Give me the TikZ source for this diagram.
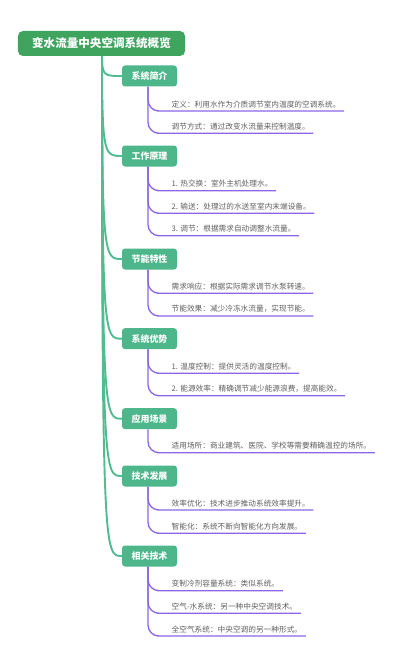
\documentclass[tikz,border=0pt]{standalone}
\usepackage{fontspec}
\setmainfont{Noto Sans CJK SC}
\usetikzlibrary{calc}
\definecolor{rootgreen}{HTML}{3FA45E}
\definecolor{catgreen}{HTML}{4DB78B}
\definecolor{trunkgreen}{HTML}{52BC91}
\definecolor{leafpurple}{HTML}{8B66E6}
\definecolor{leaftext}{HTML}{606060}
\tikzset{
  rootbox/.style={fill=rootgreen, rounded corners=5bp, text=white, font=\fontsize{11.6}{13}\selectfont\bfseries, minimum width=167bp, minimum height=25bp, inner sep=0pt},
  catbox/.style={fill=catgreen, rounded corners=3bp, text=white, font=\fontsize{9}{11}\selectfont\bfseries, minimum width=55bp, minimum height=21bp, inner sep=0pt},
  leafnode/.style={anchor=south west, text=leaftext, font=\fontsize{7.7}{9}\selectfont, inner xsep=3.5bp, inner ysep=3bp},
  branch/.style={draw=trunkgreen, line width=1.9bp},
  leafline/.style={draw=leafpurple, line width=1.3bp, rounded corners=11bp},
}
\begin{document}
\begin{tikzpicture}[x=1bp,y=-1bp]
\useasboundingbox[fill=white] (0,0) rectangle (400,667);
\node[rootbox] (root) at (101.5,43.5) {变水流量中央空调系统概览};
\node[catbox] (c1) at (149.5,76) {系统简介};
\node[catbox] (c2) at (149.5,156) {工作原理};
\node[catbox] (c3) at (149.5,259) {节能特性};
\node[catbox] (c4) at (149.5,338.7) {系统优势};
\node[catbox] (c5) at (149.5,418.7) {应用场景};
\node[catbox] (c6) at (149.5,476) {技术发展};
\node[catbox] (c7) at (149.5,556) {相关技术};
\foreach \c in {c1,c2,c3,c4,c5,c6,c7}{
  \draw[branch] ([xshift=0.5bp]root.south) .. controls ($(root.south|-\c.west)+(0.5,0)$) and ($(root.south|-\c.west)+(3,0)$) .. (\c.west);
}
% leaves
\node[leafnode] (l11) at (168,111) {定义：利用水作为介质调节室内温度的空调系统。};
\node[leafnode] (l12) at (168,133.3) {调节方式：通过改变水流量来控制温度。};
\node[leafnode] (l21) at (168,190.7) {1. 热交换：室外主机处理水。};
\node[leafnode] (l22) at (168,213.3) {2. 输送：处理过的水送至室内末端设备。};
\node[leafnode] (l23) at (168,235.7) {3. 调节：根据需求自动调整水流量。};
\node[leafnode] (l31) at (168,293.3) {需求响应：根据实际需求调节水泵转速。};
\node[leafnode] (l32) at (168,316) {节能效果：减少冷冻水流量，实现节能。};
\node[leafnode] (l41) at (168,373.3) {1. 温度控制：提供灵活的温度控制。};
\node[leafnode] (l42) at (168,395.7) {2. 能源效率：精确调节减少能源浪费，提高能效。};
\node[leafnode] (l51) at (168,452.7) {适用场所：商业建筑、医院、学校等需要精确温控的场所。};
\node[leafnode] (l61) at (168,510) {效率优化：技术进步推动系统效率提升。};
\node[leafnode] (l62) at (168,533.3) {智能化：系统不断向智能化方向发展。};
\node[leafnode] (l71) at (168,590.7) {变制冷剂容量系统：类似系统。};
\node[leafnode] (l72) at (168,613.3) {空气-水系统：另一种中央空调技术。};
\node[leafnode] (l73) at (168,636) {全空气系统：中央空调的另一种形式。};
\foreach \c/\l in {c1/l11,c1/l12,c2/l21,c2/l22,c2/l23,c3/l31,c3/l32,c4/l41,c4/l42,c5/l51,c6/l61,c6/l62,c7/l71,c7/l72,c7/l73}{
  \draw[leafline] ([xshift=-1.5bp]\c.south) |- (\l.south west) -- (\l.south east);
}
\end{tikzpicture}
\end{document}
